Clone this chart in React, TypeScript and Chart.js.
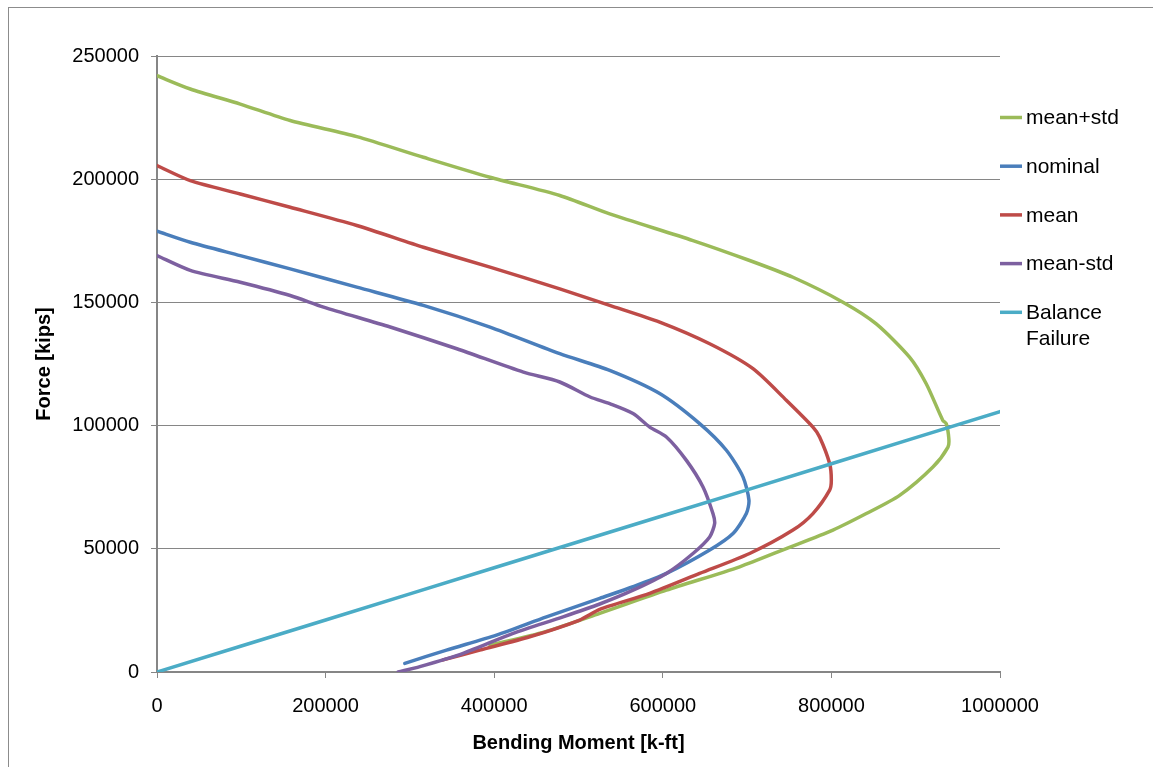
import React, { useEffect, useRef } from "react";
import { Chart, registerables } from "chart.js";

Chart.register(...registerables);

const FONT = '"Liberation Sans", Arial, Helvetica, sans-serif';

// Axis ticks
const xTickValues = [0, 200000, 400000, 600000, 800000, 1000000];
const yTickValues = [0, 50000, 100000, 150000, 200000, 250000];

// Series names & legend text
const seriesNames = ["mean+std", "nominal", "mean", "mean-std", "Balance Failure"];
const legendLines = [["mean+std"], ["nominal"], ["mean"], ["mean-std"], ["Balance", "Failure"]];
const seriesColors = ["#9BBB59", "#4A7EBB", "#BE4B48", "#7D60A0", "#4BACC6"];

// mean+std (bending moment [k-ft], force [kips])
const meanPlusStdM = [0, 39500, 98800, 158000, 237000, 316000, 395000, 477800, 537000, 635800, 703000, 754400, 813700, 853200, 892700, 912500, 932200, 936200, 939300, 938300, 920400, 880900, 841400, 801800, 746500, 691200, 604300, 525200, 460000, 395000];
const meanPlusStdF = [242000, 236600, 230500, 223800, 217300, 208900, 200800, 193400, 185900, 175100, 167000, 160200, 150100, 141300, 127800, 117000, 102100, 100800, 94700, 91300, 83200, 71700, 64300, 57600, 50100, 42700, 33200, 23800, 16300, 10900];

// nominal
const nominalM = [0, 39500, 98800, 158000, 237000, 316000, 395000, 477800, 537000, 596300, 643700, 675400, 695100, 702200, 699100, 683300, 655600, 604300, 564700, 525200, 462000, 402700, 343400, 294000];
const nominalF = [178900, 174400, 169000, 163600, 156200, 148800, 140000, 129200, 122400, 113000, 100800, 90000, 79200, 69700, 64300, 56200, 49500, 40000, 34600, 29900, 22400, 15000, 8900, 3500];

// mean
const meanM = [0, 39500, 98800, 158000, 237000, 316000, 395000, 477800, 537000, 596300, 655600, 707000, 746500, 778100, 786000, 797900, 799900, 797900, 778100, 754400, 703000, 643700, 584500, 525200, 501500, 442200, 382900, 339400];
const meanF = [205500, 199400, 194000, 188600, 181200, 172400, 164300, 155500, 148800, 142000, 133200, 123100, 110300, 99400, 95400, 84600, 77800, 73800, 64300, 57600, 48100, 40000, 31900, 25400, 21100, 14300, 8900, 4900];

// mean-std
const meanMinusStdM = [0, 39500, 98800, 158000, 197600, 276600, 355700, 434700, 477800, 513800, 537000, 564700, 584500, 604300, 628000, 647700, 659500, 661500, 655600, 635800, 604300, 564700, 525200, 481700, 422400, 363100, 311800, 286100];
const meanMinusStdF = [169000, 163000, 158200, 152800, 148100, 140000, 131200, 121700, 117700, 111600, 108900, 104900, 99400, 95400, 85900, 75100, 64300, 60300, 54800, 48100, 40000, 33200, 27600, 22400, 15700, 7600, 2200, 0];

// Balance Failure
const balanceM = [0, 200000, 400000, 600000, 800000, 1000000];
const balanceF = [0, 21100, 42300, 63400, 84500, 105700];

const seriesM = [meanPlusStdM, nominalM, meanM, meanMinusStdM, balanceM];
const seriesF = [meanPlusStdF, nominalF, meanF, meanMinusStdF, balanceF];

const GRID = "#868686";

const sideLegend = {
  id: "sideLegend",
  afterDraw(chart: any) {
    const ctx = chart.ctx as CanvasRenderingContext2D;
    const right = chart.chartArea.right;
    const top = 110.5;
    const step = 48.7;
    const lineGap = 25.5;
    ctx.save();
    ctx.font = `21px ${FONT}`;
    ctx.textBaseline = "middle";
    ctx.textAlign = "left";
    legendLines.forEach((lines, i) => {
      const y = top + i * step;
      ctx.strokeStyle = seriesColors[i];
      ctx.lineWidth = 3.5;
      ctx.beginPath();
      ctx.moveTo(right, y - 1);
      ctx.lineTo(right + 22, y - 1);
      ctx.stroke();
      ctx.fillStyle = "#000";
      lines.forEach((t, j) => ctx.fillText(t, right + 26, y + j * lineGap));
    });
    ctx.restore();
  },
};

export default function App() {
  const ref = useRef<HTMLCanvasElement | null>(null);

  useEffect(() => {
    if (!ref.current) return;
    const datasets = seriesNames.map((name, i) => ({
      label: name,
      data: seriesM[i].map((m, k) => ({ x: m, y: seriesF[i][k] })),
      borderColor: seriesColors[i],
      backgroundColor: seriesColors[i],
      borderWidth: 3.5,
      pointRadius: 0,
      showLine: true,
      tension: 0.25,
      fill: false,
      order: seriesNames.length - i,
      borderJoinStyle: "round" as const,
      borderCapStyle: "round" as const,
    }));

    const chart = new Chart(ref.current, {
      type: "scatter",
      data: { datasets },
      plugins: [sideLegend],
      options: {
        responsive: false,
        animation: false,
        devicePixelRatio: 1,
        layout: { padding: { top: 48, left: 0, right: 153, bottom: 0 } },
        plugins: {
          legend: { display: false },
          tooltip: { enabled: false },
        },
        scales: {
          x: {
            type: "linear",
            min: 0,
            max: 1000000,
            afterBuildTicks: (s: any) => {
              s.ticks = xTickValues.map((v) => ({ value: v }));
            },
            afterFit: (s: any) => {
              s.height = 95;
            },
            ticks: {
              color: "#000",
              font: { family: FONT, size: 20 },
              padding: 16,
              maxRotation: 0,
              callback: (v: any) => String(v),
            },
            grid: {
              display: true,
              drawOnChartArea: false,
              drawTicks: true,
              tickLength: 6,
              color: GRID,
              lineWidth: 1,
            },
            border: { display: true, color: GRID, width: 2 },
            title: {
              display: true,
              text: "Bending Moment [k-ft]",
              color: "#000",
              font: { family: FONT, size: 20, weight: "bold" },
              padding: { top: 0, bottom: 12 },
            },
          },
          y: {
            type: "linear",
            min: 0,
            max: 250000,
            afterBuildTicks: (s: any) => {
              s.ticks = yTickValues.map((v) => ({ value: v }));
            },
            afterFit: (s: any) => {
              s.width = 148;
            },
            ticks: {
              color: "#000",
              font: { family: FONT, size: 20 },
              padding: 12,
              callback: (v: any) => String(v),
            },
            grid: {
              display: true,
              drawOnChartArea: true,
              drawTicks: true,
              tickLength: 6,
              color: GRID,
              lineWidth: 1,
            },
            border: { display: true, color: GRID, width: 2 },
            title: {
              display: true,
              text: "Force [kips]",
              color: "#000",
              font: { family: FONT, size: 20, weight: "bold" },
              padding: { top: 23, bottom: 0 },
            },
          },
        },
      },
    });
    return () => chart.destroy();
  }, []);

  return (
    <div
      style={{
        position: "fixed",
        top: 7,
        left: 8,
        width: 1145,
        height: 760,
        boxSizing: "border-box",
        borderTop: "1px solid #8c8c8c",
        borderLeft: "1px solid #8c8c8c",
        background: "#fff",
      }}
    >
      <canvas ref={ref} width={1144} height={759} style={{ display: "block" }} />
    </div>
  );
}
